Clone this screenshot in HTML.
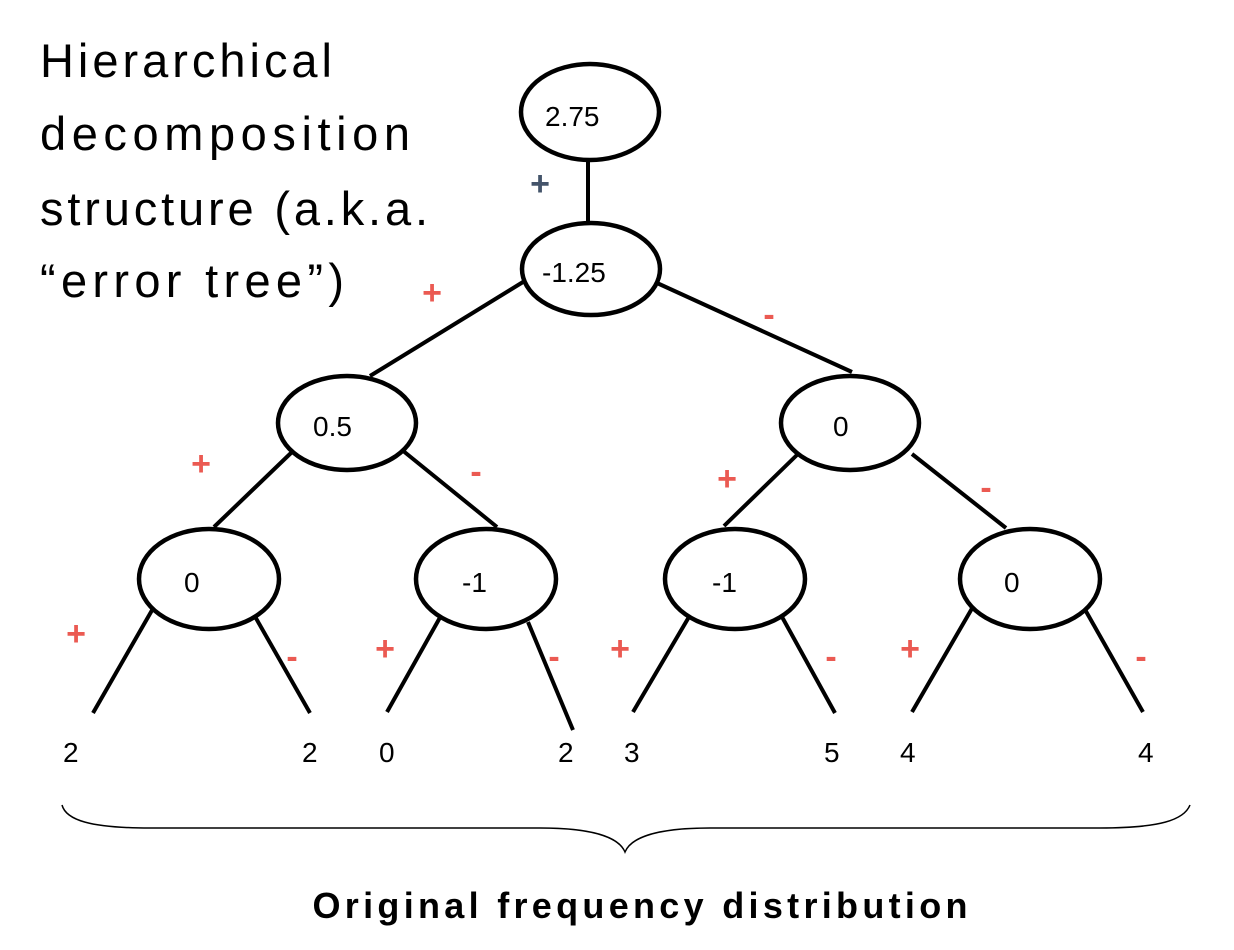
<!DOCTYPE html>
<html><head><meta charset="utf-8"><style>
html,body{margin:0;padding:0;background:#fff;}
svg{display:block;font-family:"Liberation Sans",sans-serif;}
</style></head><body>
<svg width="1234" height="950" viewBox="0 0 1234 950">
<g font-size="47" fill="#000">
<text x="40" y="77" textLength="292">Hierarchical</text>
<text x="40" y="150" textLength="370">decomposition</text>
<text x="40" y="225" textLength="388">structure (a.k.a.</text>
<text x="40" y="297" textLength="304">“error tree”)</text>
</g>
<g stroke="#000" stroke-width="4" fill="none">
<line x1="588" y1="160" x2="588" y2="223"/>
<line x1="523" y1="282" x2="370" y2="376"/>
<line x1="657" y1="283" x2="852" y2="372"/>
<line x1="292" y1="452" x2="214" y2="527"/>
<line x1="402" y1="450" x2="497" y2="527"/>
<line x1="800" y1="452" x2="724" y2="526"/>
<line x1="912" y1="454" x2="1006" y2="528"/>
<line x1="155" y1="605" x2="93" y2="713"/>
<line x1="249" y1="606" x2="310" y2="713"/>
<line x1="447" y1="605" x2="387" y2="712"/>
<line x1="528" y1="622" x2="573" y2="730"/>
<line x1="696" y1="605" x2="633" y2="712"/>
<line x1="776" y1="606" x2="835" y2="713"/>
<line x1="974" y1="605" x2="912" y2="712"/>
<line x1="1083" y1="606" x2="1143" y2="712"/>
</g>
<g stroke="#000" stroke-width="4.5" fill="#fff">
<ellipse cx="590" cy="112" rx="69" ry="48"/>
<ellipse cx="591" cy="269" rx="69" ry="46"/>
<ellipse cx="347" cy="423" rx="69" ry="47"/>
<ellipse cx="850" cy="423" rx="69" ry="47"/>
<ellipse cx="209" cy="579" rx="70" ry="50"/>
<ellipse cx="486" cy="579" rx="70" ry="50"/>
<ellipse cx="735" cy="579" rx="70" ry="50"/>
<ellipse cx="1030" cy="579" rx="70" ry="50"/>
</g>
<g font-size="28" fill="#000">
<text x="545" y="126">2.75</text>
<text x="542" y="282">-1.25</text>
<text x="313" y="436">0.5</text>
<text x="833" y="436">0</text>
<text x="184" y="592">0</text>
<text x="462" y="592">-1</text>
<text x="712" y="592">-1</text>
<text x="1004" y="592">0</text>
<text x="63" y="762">2</text>
<text x="302" y="762">2</text>
<text x="379" y="762">0</text>
<text x="558" y="762">2</text>
<text x="624" y="762">3</text>
<text x="824" y="762">5</text>
<text x="900" y="762">4</text>
<text x="1138" y="762">4</text>
</g>
<g font-size="34" font-weight="bold" fill="#eb5a52" text-anchor="middle">
<text x="540" y="195" fill="#44546a">+</text>
<text x="432" y="304">+</text>
<text x="769" y="326">-</text>
<text x="201" y="475">+</text>
<text x="476" y="483">-</text>
<text x="727" y="490">+</text>
<text x="986" y="499">-</text>
<text x="76" y="645">+</text>
<text x="292" y="668">-</text>
<text x="385" y="660">+</text>
<text x="554" y="668">-</text>
<text x="620" y="660">+</text>
<text x="831" y="668">-</text>
<text x="910" y="660">+</text>
<text x="1141" y="668">-</text>
</g>
<path d="M62,805 C66,820 90,828 150,828 L540,828 C600,828 620,840 625,852 C630,840 650,828 710,828 L1100,828 C1160,828 1184,820 1190,805" fill="none" stroke="#000" stroke-width="1.5"/>
<text x="640" y="918" font-size="36" font-weight="bold" text-anchor="middle" textLength="655">Original frequency distribution</text>
</svg>
</body></html>
